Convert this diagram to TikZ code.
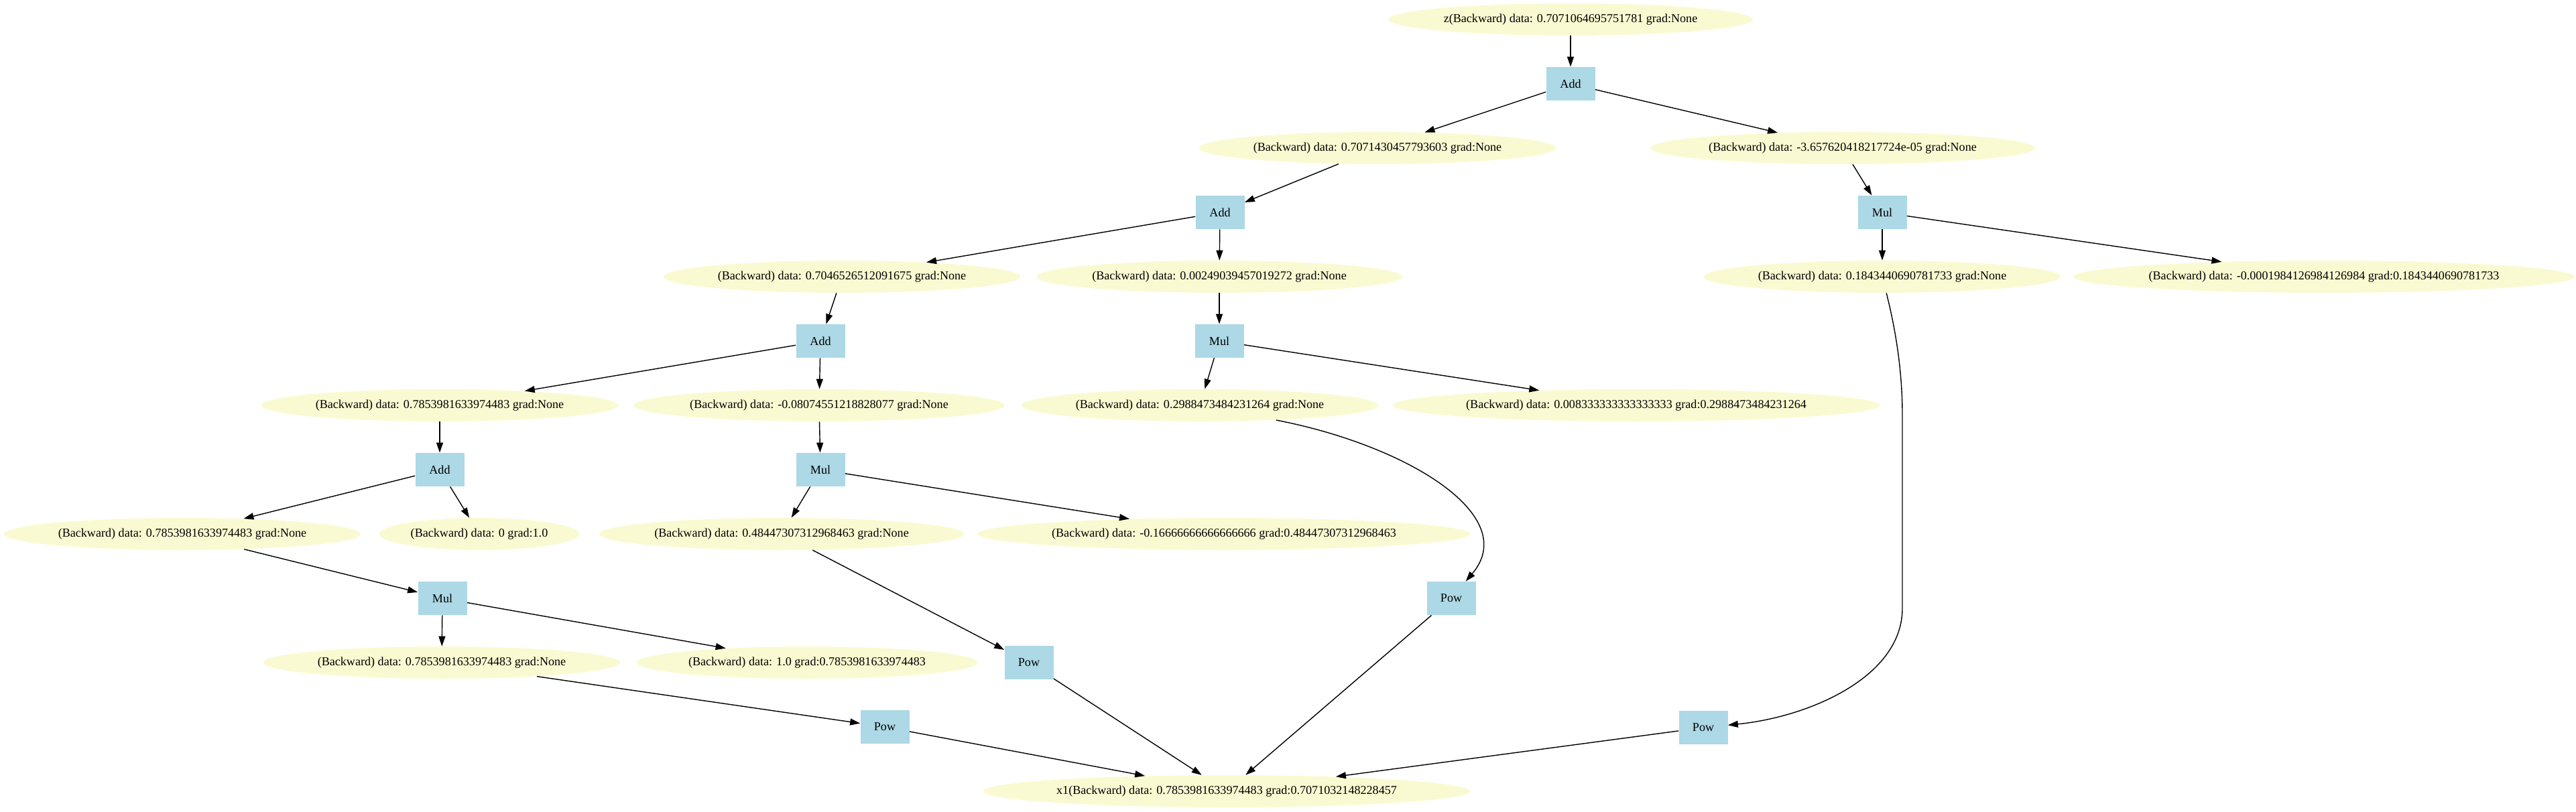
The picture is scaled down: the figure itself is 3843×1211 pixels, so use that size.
\documentclass[tikz,border=0pt]{standalone}
\usepackage{fontspec}
\setmainfont{Liberation Serif}
\usetikzlibrary{arrows.meta,shapes.geometric}
\definecolor{varfill}{HTML}{FAFAD2}
\definecolor{opfill}{HTML}{ADD8E6}

\begin{document}
\begin{tikzpicture}[
  x=0.2mm, y=-0.2mm,
  every node/.style = {font=\fontsize{10.3}{12}\selectfont},
  var/.style  = {ellipse, fill=varfill, inner xsep=0.6mm, inner ysep=0pt,
                 minimum height=9.6mm},
  op/.style   = {rectangle, fill=opfill, inner sep=0pt,
                 minimum width=14.6mm, minimum height=10mm},
  edge/.style = {-{Triangle[length=3mm,width=2mm]}, line width=0.28mm},
]

% ── Canvas (pixel units, y downwards) ────────────────────────────────────
\useasboundingbox (0,0) rectangle (3843,1211);

% ── Variables ─────────────────────────────────────────────────────────────
\node[var] (z)   at (2343,  29) {z(Backward) data: 0.7071064695751781 grad:None};
\node[var] (v1)  at (2055, 221) {(Backward) data: 0.7071430457793603 grad:None};
\node[var] (v2)  at (2749, 221) {(Backward) data: -3.657620418217724e-05 grad:None};
\node[var] (v3)  at (1256, 413) {(Backward) data: 0.7046526512091675 grad:None};
\node[var] (v4)  at (1819, 413) {(Backward) data: 0.00249039457019272 grad:None};
\node[var] (v5)  at (2808, 413) {(Backward) data: 0.1843440690781733 grad:None};
\node[var] (v6)  at (3467, 413) {(Backward) data: -0.0001984126984126984 grad:0.1843440690781733};
\node[var] (v7)  at ( 656, 605) {(Backward) data: 0.7853981633974483 grad:None};
\node[var] (v8)  at (1222, 605) {(Backward) data: -0.08074551218828077 grad:None};
\node[var] (v9)  at (1790, 605) {(Backward) data: 0.2988473484231264 grad:None};
\node[var] (v10) at (2441, 605) {(Backward) data: 0.008333333333333333 grad:0.2988473484231264};
\node[var] (v11) at ( 272, 797) {(Backward) data: 0.7853981633974483 grad:None};
\node[var] (v12) at ( 715, 797) {(Backward) data: 0 grad:1.0};
\node[var] (v13) at (1166, 797) {(Backward) data: 0.48447307312968463 grad:None};
\node[var] (v14) at (1826, 797) {(Backward) data: -0.16666666666666666 grad:0.48447307312968463};
\node[var] (v15) at ( 659, 989) {(Backward) data: 0.7853981633974483 grad:None};
\node[var] (v16) at (1204, 989) {(Backward) data: 1.0 grad:0.7853981633974483};
\node[var] (x1)  at (1830,1181) {x1(Backward) data: 0.7853981633974483 grad:0.7071032148228457};

% ── Functions ─────────────────────────────────────────────────────────────
\node[op] (add1) at (2343, 125) {Add};
\node[op] (add2) at (1820, 317) {Add};
\node[op] (mul1) at (2808, 317) {Mul};
\node[op] (add3) at (1224, 509) {Add};
\node[op] (mul2) at (1819, 509) {Mul};
\node[op] (add4) at ( 656, 701) {Add};
\node[op] (mul3) at (1224, 701) {Mul};
\node[op] (mul4) at ( 660, 893) {Mul};
\node[op] (powA) at (2165, 893) {Pow};
\node[op] (powB) at (1535, 989) {Pow};
\node[op] (powC) at (1320,1085) {Pow};
\node[op] (powD) at (2541,1086) {Pow};

% ── Edges ─────────────────────────────────────────────────────────────────
\draw[edge] (z) -- (add1);
\draw[edge] (add1) -- (v1);
\draw[edge] (add1) -- (v2);
\draw[edge] (v1) -- (add2);
\draw[edge] (v2) -- (mul1);
\draw[edge] (add2) -- (v3);
\draw[edge] (add2) -- (v4);
\draw[edge] (mul1) -- (v5);
\draw[edge] (mul1) -- (v6);
\draw[edge] (v3) -- (add3);
\draw[edge] (v4) -- (mul2);
\draw[edge] (add3) -- (v7);
\draw[edge] (add3) -- (v8);
\draw[edge] (mul2) -- (v9);
\draw[edge] (mul2) -- (v10);
\draw[edge] (v7) -- (add4);
\draw[edge] (v8) -- (mul3);
\draw[edge] (add4) -- (v11);
\draw[edge] (add4) -- (v12);
\draw[edge] (mul3) -- (v13);
\draw[edge] (mul3) -- (v14);
\draw[edge] (v11) -- (mul4);
\draw[edge] (mul4) -- (v15);
\draw[edge] (mul4) -- (v16);
\draw[edge] (v13) -- (powB);
\draw[edge] (v15) -- (powC);
% curved ones
\draw[edge] (v9) .. controls (2100,665) and (2270,770) .. (powA);
\draw[edge] (v5) .. controls (2830,500) and (2838,560) .. (2838,620)
  -- (2838,908) .. controls (2838,1010) and (2700,1070) .. (powD);
% into x1
\draw[edge] (powA) -- (x1);
\draw[edge] (powB) -- (x1);
\draw[edge] (powC) -- (x1);
\draw[edge] (powD) -- (x1);

\end{tikzpicture}
\end{document}
